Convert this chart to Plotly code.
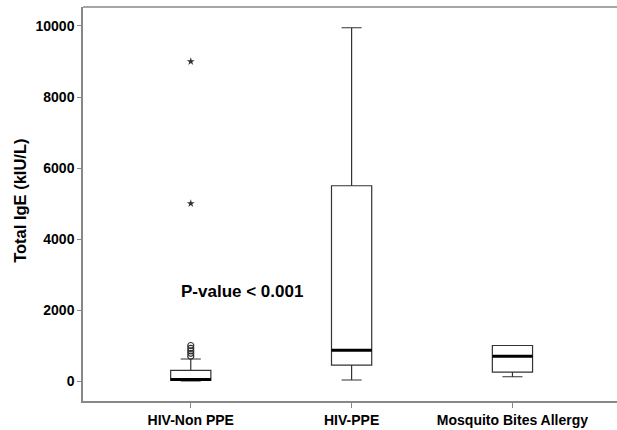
import plotly.graph_objects as go

categories = ["HIV-Non PPE", "HIV-PPE", "Mosquito Bites Allergy"]
lower_fence = [0, 28, 120]
q1 = [20, 450, 250]
median = [40, 870, 700]
q3 = [300, 5500, 1000]
upper_fence = [620, 9950, 1000]

circle_outliers = [700, 780, 850, 920, 1000]   # HIV-Non PPE mild outliers
star_outliers = [5000, 9000]                   # HIV-Non PPE extreme outliers

y_ticks = [0, 2000, 4000, 6000, 8000, 10000]
p_text = "P-value < 0.001"

box_w = 0.25
xs = list(range(len(categories)))

fig = go.Figure()
fig.add_trace(go.Box(
    x=xs, q1=q1, median=median, q3=q3,
    lowerfence=lower_fence, upperfence=upper_fence,
    width=box_w, whiskerwidth=0.5,
    fillcolor="white", line=dict(color="#333333", width=1.2),
    boxpoints=False, showlegend=False, hoverinfo="skip",
))
# thick median lines
for i, m in enumerate(median):
    fig.add_trace(go.Scatter(
        x=[xs[i] - box_w / 2, xs[i] + box_w / 2], y=[m, m], mode="lines",
        line=dict(color="black", width=3), showlegend=False, hoverinfo="skip",
    ))
fig.add_trace(go.Scatter(
    x=[xs[0]] * len(circle_outliers), y=circle_outliers, mode="markers",
    marker=dict(symbol="circle-open", size=6, color="#333333", line=dict(width=1.2)),
    showlegend=False, hoverinfo="skip",
))
fig.add_trace(go.Scatter(
    x=[xs[0]] * len(star_outliers), y=star_outliers, mode="markers",
    marker=dict(symbol="star", size=6, color="#333333"),
    showlegend=False, hoverinfo="skip",
))

fig.add_annotation(x=0.32, y=2535, xref="x", yref="y", text="<b>" + p_text + "</b>",
                   showarrow=False, font=dict(family="Liberation Sans, Arial", size=17, color="black"))
fig.add_annotation(x=-0.118, xref="paper", y=0.508, yref="paper", text="<b>Total IgE (kIU/L)</b>",
                   showarrow=False, textangle=-90, xanchor="center", yanchor="middle",
                   font=dict(family="Liberation Sans, Arial", size=16.5, color="black"))
# top frame line (open on the right)
fig.add_shape(type="line", xref="paper", yref="paper", x0=0, x1=1.02, y0=1, y1=1,
              line=dict(color="#888888", width=1.5))

fig.update_layout(
    width=617, height=430, margin=dict(l=83, r=0, t=7, b=29),
    plot_bgcolor="white", paper_bgcolor="white",
    font=dict(family="Liberation Sans, Arial", size=14, color="black"),
)
fig.update_xaxes(
    range=[-0.67, 2.65], tickvals=xs, ticktext=["<b>%s</b>" % c for c in categories],
    showgrid=False, zeroline=False, showline=True, linecolor="#888888", linewidth=1.5,
    mirror=False, ticks="outside", ticklen=5, tickcolor="#888888",
)
fig.update_yaxes(
    range=[-563, 10535], tickvals=y_ticks, ticktext=["<b>%d</b>" % v for v in y_ticks],
    showgrid=False, zeroline=False, showline=True, linecolor="#888888", linewidth=1.5,
    ticks="outside", ticklen=4, tickcolor="#888888",
)
fig.write_html("out.html")
